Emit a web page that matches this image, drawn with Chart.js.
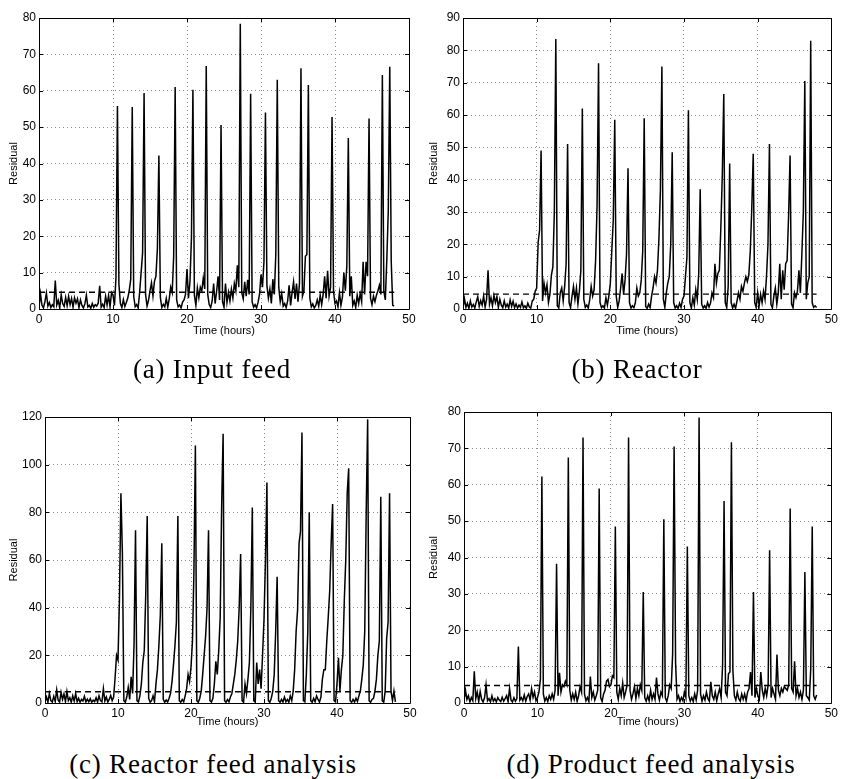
<!DOCTYPE html>
<html>
<head>
<meta charset="utf-8">
<script src="https://cdn.jsdelivr.net/npm/chart.js@4.4.1/dist/chart.umd.min.js"></script>
<style>
body { margin: 0; background: #fff; }
#page { position: relative; width: 841px; height: 779px; overflow: hidden; }
#page canvas { position: absolute; }
.cap { position: absolute; font-family: "Liberation Serif", "Times New Roman", serif; font-size: 27px; line-height: 27px; letter-spacing: 0.8px; white-space: nowrap; transform: translateX(-50%); color: #000; }
</style>
</head>
<body>
<div id="page">
  <canvas id="plot-a" width="420" height="340" style="left:0px;top:0px"></canvas>
  <canvas id="plot-b" width="421" height="340" style="left:420px;top:0px"></canvas>
  <canvas id="plot-c" width="420" height="355" style="left:0px;top:380px"></canvas>
  <canvas id="plot-d" width="421" height="355" style="left:420px;top:380px"></canvas>
  <div class="cap" style="left:212px;top:356px">(a) Input feed</div>
  <div class="cap" style="left:637px;top:356px">(b) Reactor</div>
  <div class="cap" style="left:213px;top:751px">(c) Reactor feed analysis</div>
  <div class="cap" style="left:651px;top:751px">(d) Product feed analysis</div>
</div>
<script>
// residuals are sampled every 0.2 h from 0 to 48 h (241 samples per panel)
const SAMPLE_STEP = 0.2;
const END_HOUR = 48;

const input_feed = [
    0.5, 4.2, 1.0, 0.3, 2.0, 4.4, 0.8, 1.8, 0.4, 1.2,
    0.6, 7.8, 1.1, 2.4, 0.3, 3.9, 1.5, 0.7, 3.2, 0.9,
    3.5, 1.2, 2.9, 0.5, 3.1, 1.6, 2.8, 0.4, 2.5, 1.0,
    0.3, 1.4, 3.8, 0.6, 1.0, 0.2, 1.5, 0.5, 1.2, 0.8,
    1.6, 6.4, 0.5, 1.3, 0.4, 3.5, 1.1, 3.7, 0.6, 4.5,
    3.8, 1.0, 8.6, 55.8, 6.8, 1.5, 0.4, 2.6, 0.7, 1.8,
    3.0, 5.2, 8.2, 55.5, 3.5, 0.6, 1.2, 0.3, 4.6, 10.0,
    15.5, 59.4, 4.0, 0.8, 2.4, 5.0, 7.2, 3.6, 7.6, 9.0,
    16.7, 42.2, 3.2, 0.4, 1.3, 0.6, 2.9, 0.5, 2.8, 6.0,
    4.5, 14.5, 61.0, 2.5, 0.6, 1.1, 0.3, 1.9, 2.5, 4.0,
    11.0, 3.0, 7.5, 19.5, 60.3, 3.8, 1.0, 5.8, 3.1, 6.0,
    5.0, 8.5, 5.5, 66.8, 4.0, 1.2, 0.4, 2.2, 7.0, 1.5,
    4.8, 9.0, 2.5, 50.6, 2.0, 0.5, 7.0, 1.8, 4.6, 2.2,
    5.5, 3.0, 7.0, 5.0, 12.0, 6.0, 78.4, 4.5, 2.8, 7.5,
    3.5, 8.0, 4.0, 59.2, 2.0, 0.5, 1.2, 0.3, 1.8, 4.0,
    9.5, 6.0, 13.0, 54.0, 6.5, 3.0, 5.5, 1.5, 8.2, 4.0,
    15.0, 63.0, 6.0, 2.0, 4.2, 0.8, 1.5, 0.4, 2.2, 6.5,
    1.0, 4.5, 7.5, 2.8, 7.0, 2.0, 7.0, 66.2, 3.5, 5.0,
    14.5, 15.0, 61.6, 3.0, 0.6, 1.4, 0.3, 1.0, 2.5, 0.8,
    3.8, 1.2, 4.0, 9.0, 3.0, 10.5, 3.5, 6.0, 52.8, 4.8,
    1.5, 2.2, 0.6, 4.5, 1.0, 3.2, 10.0, 5.0, 12.0, 47.0,
    3.5, 9.0, 1.0, 2.2, 0.4, 3.8, 1.5, 4.2, 2.0, 13.0,
    4.0, 13.0, 9.0, 52.4, 3.0, 1.2, 3.5, 2.0, 3.8, 5.0,
    6.5, 4.0, 64.3, 5.0, 2.5, 13.5, 27.0, 66.6, 13.0, 1.0,
    0.8
];

const reactor = [
    0.3, 3.2, 0.5, 1.8, 0.2, 2.5, 0.6, 1.4, 0.3, 2.2,
    3.8, 0.8, 2.6, 1.2, 4.0, 0.6, 3.0, 12.0, 1.5, 3.5,
    1.0, 4.2, 2.0, 3.8, 0.5, 3.0, 1.2, 0.4, 2.5, 0.6,
    1.5, 0.3, 2.8, 0.8, 2.4, 0.4, 1.6, 0.3, 1.2, 0.5,
    2.2, 0.4, 1.0, 0.2, 1.8, 0.6, 0.3, 2.5, 3.0, 5.5,
    6.5, 20.5, 24.5, 49.0, 2.5, 8.0, 5.0, 7.5, 2.0, 4.5,
    10.5, 13.0, 30.0, 83.5, 1.0, 0.3, 5.0, 6.5, 2.5, 7.0,
    14.0, 51.0, 2.0, 0.4, 4.0, 7.0, 3.0, 6.5, 1.5, 5.5,
    12.0, 62.0, 3.0, 0.5, 1.2, 0.3, 2.8, 7.0, 4.0, 6.0,
    15.0, 32.0, 76.0, 2.0, 0.4, 1.0, 0.3, 3.5, 1.2, 4.0,
    8.0, 18.0, 27.5, 58.5, 4.0, 0.5, 2.5, 6.5, 11.0, 4.5,
    9.0, 17.0, 43.5, 2.0, 0.3, 1.0, 0.4, 2.0, 6.5, 4.0,
    5.0, 9.0, 18.0, 59.0, 0.8, 0.2, 1.5, 0.4, 4.0, 6.5,
    10.0, 8.0, 12.0, 22.0, 37.0, 75.0, 3.0, 0.5, 5.0, 8.0,
    10.0, 20.0, 48.5, 2.0, 0.3, 1.0, 0.2, 1.8, 0.5, 3.0,
    4.0, 10.0, 16.0, 61.5, 2.0, 0.3, 3.5, 1.2, 6.0, 3.0,
    11.0, 37.0, 1.5, 0.3, 1.0, 0.2, 2.0, 0.6, 1.8, 5.0,
    3.5, 14.0, 8.0, 11.0, 12.0, 25.0, 41.5, 66.5, 2.0, 0.4,
    7.0, 45.0, 2.0, 0.3, 1.5, 0.2, 2.5, 5.0, 3.0, 7.0,
    5.5, 8.0, 10.0, 8.5, 10.5, 18.0, 31.0, 48.0, 2.0, 0.5,
    5.0, 1.0, 4.5, 2.0, 5.5, 3.0, 10.0, 20.0, 51.0, 1.5,
    0.3, 4.0, 6.5, 1.5, 5.0, 14.0, 3.0, 12.0, 6.0, 14.0,
    15.0, 29.0, 47.5, 1.5, 0.4, 5.0, 3.5, 5.5, 12.0, 5.0,
    17.0, 30.0, 70.5, 3.0, 8.0, 10.0, 83.0, 2.0, 0.5, 1.0,
    0.5
];

const reactor_feed = [
    0.5, 2.5, 0.3, 4.0, 1.0, 0.4, 2.8, 0.6, 5.5, 1.2,
    0.4, 4.5, 1.5, 3.8, 0.6, 4.8, 1.0, 2.2, 0.3, 3.0,
    0.8, 4.0, 0.5, 2.0, 0.3, 1.5, 0.8, 2.8, 0.4, 1.6,
    0.5, 1.8, 0.3, 1.2, 0.6, 2.2, 0.4, 3.0, 1.0, 0.5,
    6.0, 0.8, 2.5, 0.4, 1.5, 3.2, 1.0, 2.5, 10.5, 20.0,
    18.0, 44.0, 88.0, 63.0, 1.0, 0.3, 2.5, 6.5, 1.5, 11.0,
    4.0, 25.0, 72.5, 1.0, 0.4, 3.0, 8.0, 17.0, 22.0, 45.5,
    78.5, 2.0, 0.3, 1.0, 3.0, 0.5, 8.0, 14.0, 24.0, 37.0,
    67.0, 1.5, 0.3, 1.2, 0.4, 2.0, 4.0, 9.0, 16.0, 24.0,
    34.0, 78.5, 1.0, 0.3, 1.5, 0.5, 3.0, 6.0, 12.0, 9.0,
    15.0, 26.0, 55.0, 108.0, 1.0, 0.3, 2.0, 5.0, 12.0, 20.0,
    28.0, 40.0, 72.5, 1.0, 0.4, 2.0, 8.0, 17.5, 12.0, 22.0,
    36.0, 83.0, 113.0, 1.0, 0.3, 1.5, 0.5, 2.5, 4.0, 8.0,
    12.0, 18.0, 26.0, 40.0, 62.5, 1.0, 0.3, 8.0, 4.0, 10.0,
    17.0, 40.0, 82.0, 1.0, 0.4, 17.0, 8.0, 14.0, 6.0, 20.0,
    35.0, 60.0, 92.5, 1.0, 0.3, 2.0, 5.0, 12.0, 30.0, 53.0,
    1.0, 0.3, 1.5, 0.4, 2.5, 0.5, 1.5, 0.3, 3.0, 1.0,
    5.0, 14.0, 30.0, 39.0, 67.0, 72.0, 113.5, 1.0, 0.5, 12.0,
    30.0, 80.0, 1.0, 0.3, 2.0, 0.5, 3.0, 1.5, 0.4, 2.5,
    10.0, 14.0, 14.0, 26.0, 36.0, 47.0, 67.0, 83.5, 1.0, 0.5,
    8.0, 19.0, 5.0, 14.0, 20.0, 43.0, 60.0, 88.0, 98.5, 1.0,
    0.3, 1.5, 0.4, 2.0, 0.6, 3.0, 5.0, 10.0, 16.0, 30.0,
    80.0, 119.0, 1.0, 0.3, 1.5, 2.0, 5.0, 10.0, 20.0, 26.0,
    86.5, 1.0, 0.3, 5.0, 27.0, 34.0, 88.0, 5.0, 1.0, 5.0,
    0.5
];

const product_feed = [
    0.5, 3.5, 1.0, 2.0, 0.3, 1.5, 0.6, 8.7, 1.2, 3.0,
    0.4, 3.2, 1.0, 0.3, 1.5, 5.0, 0.6, 1.2, 0.3, 2.0,
    0.5, 1.2, 0.3, 1.5, 0.8, 0.4, 1.6, 0.5, 1.2, 2.0,
    0.4, 4.0, 0.8, 0.3, 1.5, 0.5, 1.2, 15.5, 0.8, 1.5,
    0.6, 2.2, 0.5, 1.8, 2.5, 0.8, 4.0, 1.5, 3.0, 0.6,
    1.5, 3.0, 6.5, 62.3, 2.5, 0.5, 1.5, 0.4, 2.0, 1.0,
    2.5, 1.0, 3.5, 38.3, 2.0, 8.3, 3.0, 5.0, 4.5, 6.0,
    5.0, 67.5, 3.5, 0.8, 2.5, 1.0, 3.0, 0.5, 2.0, 4.5,
    3.0, 73.0, 2.5, 0.6, 1.5, 0.4, 7.3, 1.5, 3.0, 0.8,
    2.0, 3.5, 59.0, 1.5, 0.4, 2.5, 3.5, 6.0, 6.5, 4.5,
    5.0, 7.5, 7.0, 48.5, 3.0, 1.0, 4.0, 2.0, 5.5, 1.5,
    3.0, 5.0, 73.0, 3.5, 1.0, 2.5, 4.5, 1.2, 4.0, 2.0,
    5.0, 3.5, 30.5, 1.5, 0.5, 2.0, 0.6, 3.5, 1.0, 2.5,
    1.0, 7.0, 2.5, 0.8, 3.0, 2.0, 50.5, 1.5, 0.4, 2.0,
    5.0, 4.0, 13.5, 70.5, 11.0, 1.0, 2.0, 0.4, 1.5, 0.6,
    3.0, 1.5, 43.0, 2.0, 0.5, 1.5, 0.4, 2.5, 0.8, 3.5,
    78.5, 2.5, 0.5, 2.0, 0.8, 3.0, 1.2, 0.5, 5.8, 2.0,
    1.0, 3.0, 0.6, 2.5, 4.0, 1.5, 10.5, 55.5, 3.0, 2.0,
    8.0, 8.5, 71.7, 9.0, 2.0, 0.8, 3.0, 1.2, 0.5, 2.5,
    1.0, 2.5, 0.6, 3.0, 4.0, 8.5, 2.0, 30.5, 1.5, 4.0,
    2.0, 1.0, 8.5, 3.5, 1.5, 4.0, 2.0, 5.0, 42.0, 1.5,
    4.0, 2.5, 1.0, 13.3, 3.5, 2.0, 4.0, 3.0, 4.5, 4.0,
    3.5, 5.0, 53.5, 4.0, 3.0, 11.5, 2.0, 4.0, 1.5, 3.0,
    1.0, 3.5, 36.0, 2.0, 1.5, 0.8, 9.5, 48.5, 2.0, 1.0,
    2.2
];

// detection thresholds (dashed lines)
const thr_input_feed = 4.6;
const thr_reactor = 4.6;
const thr_reactor_feed = 4.7;
const thr_product_feed = 4.8;

Chart.defaults.font.family = "'Liberation Sans', Arial, sans-serif";
Chart.defaults.font.size = 12;
Chart.defaults.color = "#000";

// matlab style box with inward tick marks
const matlabBox = {
    id: "matlabBox",
    afterDraw(chart) {
        const ctx = chart.ctx;
        const a = chart.chartArea;
        const sx = chart.scales.x, sy = chart.scales.y;
        ctx.save();
        ctx.strokeStyle = "#000";
        ctx.lineWidth = 1;
        ctx.beginPath();
        ctx.rect(Math.round(a.left) + 0.5, Math.round(a.top) + 0.5, Math.round(a.width), Math.round(a.height));
        sx.ticks.forEach(t => {
            const px = Math.round(sx.getPixelForValue(t.value)) + 0.5;
            ctx.moveTo(px, a.bottom); ctx.lineTo(px, a.bottom - 4);
            ctx.moveTo(px, a.top); ctx.lineTo(px, a.top + 4);
        });
        sy.ticks.forEach(t => {
            const py = Math.round(sy.getPixelForValue(t.value)) + 0.5;
            ctx.moveTo(a.left, py); ctx.lineTo(a.left + 4, py);
            ctx.moveTo(a.right, py); ctx.lineTo(a.right - 4, py);
        });
        ctx.stroke();
        ctx.restore();
    }
};

function toPoints(values) {
    return values.map((v, i) => ({x: i * SAMPLE_STEP, y: v}));
}

function make_plot(id, values, threshold, yMax, yStep, box) {
    new Chart(document.getElementById(id), {
        type: "line",
        data: {
            datasets: [
                {
                    label: "residual",
                    data: toPoints(values),
                    borderColor: "#000",
                    borderWidth: 1.5,
                    pointRadius: 0,
                    tension: 0,
                },
                {
                    label: "threshold",
                    data: [{x: 0, y: threshold}, {x: END_HOUR, y: threshold}],
                    borderColor: "#000",
                    borderWidth: 1.4,
                    borderDash: [6, 4],
                    pointRadius: 0,
                },
            ]
        },
        options: {
            responsive: false,
            animation: false,
            layout: {padding: {top: box.top, right: box.right, left: 0, bottom: 0}},
            plugins: {legend: {display: false}, tooltip: {enabled: false}},
            scales: {
                x: {
                    type: "linear",
                    min: 0, max: 50,
                    ticks: {stepSize: 10, padding: 3, maxRotation: 0},
                    grid: {color: "#8a8a8a", drawTicks: false},
                    border: {display: false, dash: [1, 3]},
                    title: {display: true, text: "Time (hours)", font: {size: 11}, padding: {top: 0, bottom: box.titleBottom}},
                    afterFit: s => { s.height = box.xh; },
                },
                y: {
                    min: 0, max: yMax,
                    ticks: {stepSize: yStep, padding: 3},
                    grid: {color: "#8a8a8a", drawTicks: false},
                    border: {display: false, dash: [1, 3]},
                    title: {display: true, text: "Residual", font: {size: 11}, padding: {top: 7, bottom: 0}},
                    afterFit: s => { s.width = box.yw; },
                }
            }
        },
        plugins: [matlabBox]
    });
}

make_plot("plot-a", input_feed, thr_input_feed, 80, 10, {top: 18, right: 11, yw: 39, xh: 31, titleBottom: 2});
make_plot("plot-b", reactor, thr_reactor, 90, 10, {top: 18, right: 6, yw: 43, xh: 31, titleBottom: 2});
make_plot("plot-c", reactor_feed, thr_reactor_feed, 120, 20, {top: 37, right: 10, yw: 45, xh: 32, titleBottom: 6});
make_plot("plot-d", product_feed, thr_product_feed, 80, 10, {top: 32, right: 6, yw: 44, xh: 32, titleBottom: 6});
</script>
</body>
</html>
